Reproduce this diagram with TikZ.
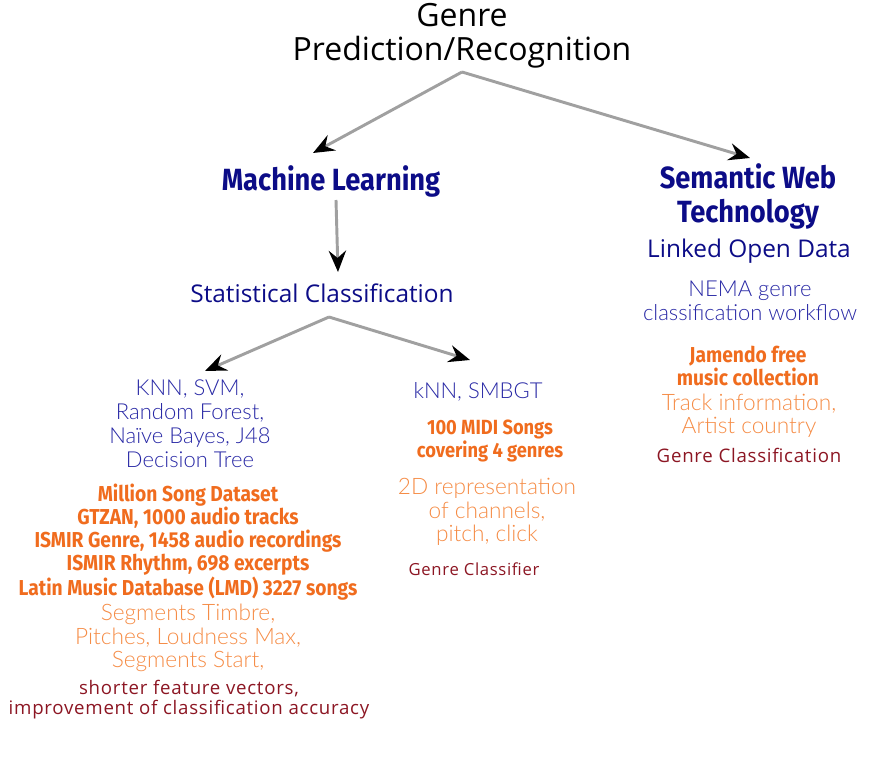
\documentclass[tikz,border=0pt]{standalone}
\usepackage{fontspec}
\setmainfont{Open Sans}
\newfontfamily\lightfont{Lato Light}
\newfontfamily\condfont[FakeStretch=0.89]{Fira Sans}
\newfontfamily\spacedfont[LetterSpace=4]{Open Sans}
\usetikzlibrary{arrows.meta}
\definecolor{navy}{RGB}{12,12,135}
\definecolor{softblue}{RGB}{40,40,165}
\definecolor{darkorange}{RGB}{240,108,30}
\definecolor{softorange}{RGB}{245,140,70}
\definecolor{wine}{RGB}{140,22,35}
\definecolor{linkgray}{RGB}{160,160,160}
\begin{document}
\begin{tikzpicture}[x=0.75pt, y=-0.75pt,
	link/.style={draw=linkgray, line width=2.2pt,
		-{Stealth[black, length=16pt, width=13pt, inset=5.5pt]}},
	field/.style={text=navy, align=center, font=\condfont\bfseries\fontsize{23}{25.5}\selectfont},
	topic/.style={text=navy, align=center, font=\fontsize{18.3}{20}\selectfont},
	method/.style={text=softblue, align=center, font=\lightfont\fontsize{16.5}{18}\selectfont},
	dataset/.style={text=darkorange, align=center, font=\condfont\bfseries\fontsize{16.2}{17.3}\selectfont},
	feature/.style={text=softorange, align=center, font=\lightfont\fontsize{17}{17.6}\selectfont},
	outcome/.style={text=wine, align=center, font=\spacedfont\fontsize{14}{15}\selectfont}]
	\useasboundingbox (0,0) rectangle (883,763);
	% root
	\node[align=center, font=\fontsize{24}{25.5}\selectfont] (genre) at (462,36)
		{Genre\\Prediction/Recognition};
	% two branches
	\node[field] (ml) at (331,181) {Machine Learning};
	\node[field] (swt) at (748,196) {Semantic Web\\Technology};
	% semantic web column
	\node[topic] (lod) at (749,251) {Linked Open Data};
	\node[method] (nema) at (750,301) {NEMA genre\\classification workflow};
	\node[dataset] (jamendo) at (748,366) {Jamendo free\\music collection};
	\node[feature] (track) at (749,416) {Track information,\\Artist country};
	\node[outcome] (gclass) at (749,455) {Genre Classification};
	% machine learning column
	\node[topic] (stat) at (322,293) {Statistical Classification};
	\node[method] (knn) at (190,424) {KNN, SVM,\\Random Forest,\\Naïve Bayes, J48\\Decision Tree};
	\node[dataset] (msd) at (188,542) {Million Song Dataset\\GTZAN, 1000 audio tracks\\
		ISMIR Genre, 1458 audio recordings\\ISMIR Rhythm, 698 excerpts\\
		Latin Music Database (LMD) 3227 songs};
	\node[feature] (seg) at (188,638) {Segments Timbre,\\Pitches, Loudness Max,\\Segments Start,};
	\node[outcome] (short) at (189,700) {shorter feature vectors,\\improvement of classification accuracy};
	\node[method] (smbgt) at (478,392) {kNN, SMBGT};
	\node[dataset, font=\condfont\bfseries\fontsize{15.4}{17.3}\selectfont] (midi) at (490,441)
		{100 MIDI Songs\\covering 4 genres};
	\node[feature] (repr) at (487,512) {2D representation\\of channels,\\pitch, click};
	\node[outcome, font=\spacedfont\fontsize{12.5}{15}\selectfont] (gclassifier) at (474,569) {Genre Classifier};
	% connectors
	\coordinate (fork) at (462,72);
	\coordinate (mltip) at (313,153);
	\coordinate (swttip) at (750,158);
	\coordinate (mlout) at (336,200);
	\coordinate (stattip) at (338,272);
	\coordinate (statfork) at (329,317);
	\coordinate (knntip) at (205,371);
	\coordinate (smbgttip) at (470,360);
	\draw[link] (fork) -- (mltip);
	\draw[link] (fork) -- (swttip);
	\draw[link] (mlout) -- (stattip);
	\draw[link] (statfork) -- (knntip);
	\draw[link] (statfork) -- (smbgttip);
\end{tikzpicture}
\end{document}
